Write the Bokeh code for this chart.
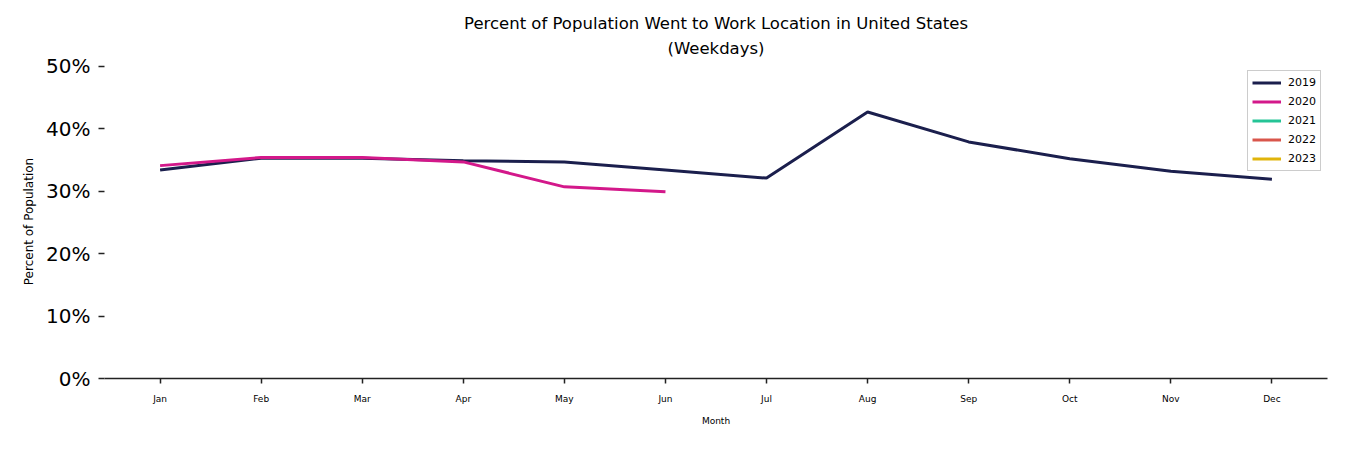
from bokeh.plotting import figure
from bokeh.models import ColumnDataSource, Range1d, FixedTicker, Legend, LegendItem, Title, NumeralTickFormatter
from bokeh.embed import file_html
from bokeh.resources import INLINE

months = ["Jan", "Feb", "Mar", "Apr", "May", "Jun", "Jul", "Aug", "Sep", "Oct", "Nov", "Dec"]
y2019 = [0.334, 0.353, 0.353, 0.349, 0.347, 0.334, 0.321, 0.427, 0.379, 0.352, 0.332, 0.319]
y2020 = [0.341, 0.354, 0.354, 0.347, 0.307, 0.299]
y2021 = []
y2022 = []
y2023 = []
years = ["2019", "2020", "2021", "2022", "2023"]
colors = ["#1b1f4d", "#d3188a", "#25c496", "#d9564c", "#e0b40b"]
yticks = [0, 0.1, 0.2, 0.3, 0.4, 0.5]

FONT = "DejaVu Sans"
BLACK = "#000000"

p = figure(width=1334, height=434, output_backend="svg", toolbar_location=None,
           x_range=Range1d(-0.55, 11.55), y_range=Range1d(0, 0.503),
           min_border_left=104, min_border_right=7, min_border_top=64, min_border_bottom=56)
p.outline_line_color = None
p.grid.visible = False
p.background_fill_color = "white"

series = [y2019, y2020, y2021, y2022, y2023]
items = []
nan = float("nan")
for yr, vals, c in zip(years, series, colors):
    if len(vals):
        data = dict(x=list(range(len(vals))), y=vals)
    else:
        data = dict(x=[nan], y=[nan])
    src = ColumnDataSource(data)
    r = p.line("x", "y", source=src, line_color=c, line_width=3)
    items.append(LegendItem(label=yr, renderers=[r]))

legend = Legend(items=items, location="top_right", label_text_font=FONT,
                label_text_font_size="11px", label_text_color=BLACK,
                glyph_width=29, glyph_height=15, label_height=15, spacing=4,
                padding=4, margin=6, label_standoff=7,
                border_line_color="#cccccc", border_line_alpha=1.0,
                background_fill_alpha=1.0)
p.add_layout(legend)

# x axis
p.xaxis.ticker = FixedTicker(ticks=list(range(12)))
p.xaxis.major_label_overrides = {i: m for i, m in enumerate(months)}
p.xaxis.major_label_text_font = FONT
p.xaxis.major_label_text_font_size = "9px"
p.xaxis.major_label_text_color = BLACK
p.xaxis.major_label_standoff = 10
p.xaxis.major_tick_in = 0
p.xaxis.major_tick_out = 5
p.xaxis.minor_tick_line_color = None
p.xaxis.axis_line_color = "#222222"
p.xaxis.axis_line_width = 1.5
p.xaxis.major_tick_line_color = "#222222"
p.xaxis.major_tick_line_width = 1.5
p.xaxis.axis_label = "Month"
p.xaxis.axis_label_text_font = FONT
p.xaxis.axis_label_text_font_size = "9px"
p.xaxis.axis_label_text_font_style = "normal"
p.xaxis.axis_label_text_color = BLACK
p.xaxis.axis_label_standoff = 9

# y axis
p.yaxis.ticker = FixedTicker(ticks=yticks)
p.yaxis.formatter = NumeralTickFormatter(format="0%")
p.yaxis.major_label_text_font = FONT
p.yaxis.major_label_text_font_size = "20px"
p.yaxis.major_label_text_color = BLACK
p.yaxis.major_label_standoff = 8
p.yaxis.axis_line_color = None
p.yaxis.major_tick_in = 0
p.yaxis.major_tick_out = 6
p.yaxis.major_tick_line_color = "#222222"
p.yaxis.major_tick_line_width = 1.5
p.yaxis.minor_tick_line_color = None
p.yaxis.axis_label = "Percent of Population"
p.yaxis.axis_label_text_font = FONT
p.yaxis.axis_label_text_font_size = "12px"
p.yaxis.axis_label_text_font_style = "normal"
p.yaxis.axis_label_text_color = BLACK
p.yaxis.axis_label_standoff = 7

p.add_layout(Title(text="(Weekdays)", align="center", text_font=FONT, text_font_size="16.5px",
                   text_font_style="normal", text_color=BLACK, offset=0, standoff=14), "above")
p.add_layout(Title(text="Percent of Population Went to Work Location in United States", align="center",
                   text_font=FONT, text_font_size="16.5px", text_font_style="normal",
                   text_color=BLACK, standoff=-6), "above")

open("out.html", "w").write(file_html(p, INLINE))
